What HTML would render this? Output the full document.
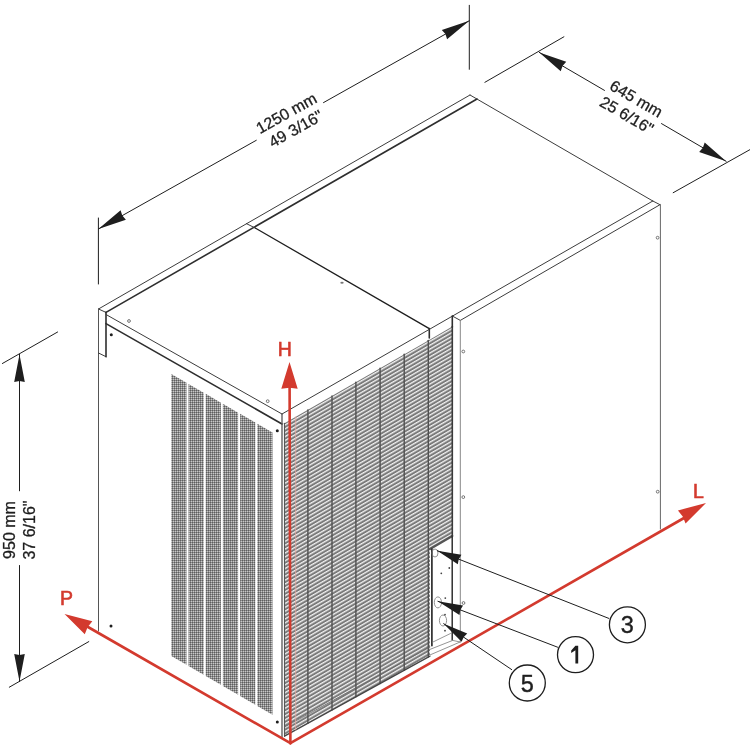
<!DOCTYPE html>
<html><head><meta charset="utf-8"><style>
html,body{margin:0;padding:0;background:#fff;width:750px;height:750px;overflow:hidden}
svg{display:block;font-family:"Liberation Sans", sans-serif}
line{stroke-linecap:round}
svg{will-change:transform}
</style></head><body>
<svg width="750" height="750" viewBox="0 0 750 750"><defs>
<pattern id="louv" patternUnits="userSpaceOnUse" width="40" height="3.88" patternTransform="matrix(1 -0.5774 0 1 0 0)">
  <rect width="40" height="3.88" fill="#ffffff"/>
  <rect y="0.5" width="40" height="2.5" fill="#7a7a7a"/>
</pattern>
<pattern id="perf" patternUnits="userSpaceOnUse" width="2" height="2">
  <rect width="2" height="2" fill="#8c8c8c"/>
  <rect width="1" height="1" fill="#5e5e5e"/>
  <rect x="1" y="1" width="1" height="1" fill="#c8c8c8"/>
</pattern>
</defs><rect width="750" height="750" fill="#fff"/><polygon points="171.30,373.90 186.50,382.72 186.50,664.82 171.30,656.00" fill="url(#perf)" stroke="none" stroke-width="0" />
<polygon points="188.50,383.88 203.70,392.69 203.70,674.79 188.50,665.98" fill="url(#perf)" stroke="none" stroke-width="0" />
<polygon points="205.70,393.85 220.90,402.67 220.90,684.77 205.70,675.95" fill="url(#perf)" stroke="none" stroke-width="0" />
<polygon points="222.90,403.83 238.10,412.64 238.10,694.74 222.90,685.93" fill="url(#perf)" stroke="none" stroke-width="0" />
<polygon points="240.10,413.80 255.30,422.62 255.30,704.72 240.10,695.90" fill="url(#perf)" stroke="none" stroke-width="0" />
<polygon points="257.30,423.78 272.50,432.60 272.50,714.70 257.30,705.88" fill="url(#perf)" stroke="none" stroke-width="0" />
<polygon points="284.50,423.35 430.00,339.39 430.00,656.10 284.50,736.12" fill="url(#louv)" stroke="none" stroke-width="0" />
<polygon points="430.00,339.39 452.30,326.53 452.30,536.00 430.00,549.00" fill="url(#louv)" stroke="none" stroke-width="0" />
<line x1="430.00" y1="549.00" x2="452.30" y2="536.00" stroke="#555" stroke-width="2.2" />
<line x1="431.90" y1="549.00" x2="431.90" y2="645.70" stroke="#222" stroke-width="1.6" />
<line x1="452.20" y1="536.00" x2="452.20" y2="640.00" stroke="#222" stroke-width="1.4" />
<line x1="433.00" y1="642.00" x2="450.50" y2="633.50" stroke="#999" stroke-width="1.0" />
<line x1="429.70" y1="649.50" x2="452.70" y2="640.40" stroke="#888" stroke-width="0.9" />
<line x1="430.30" y1="654.80" x2="460.10" y2="642.00" stroke="#888" stroke-width="0.9" />
<line x1="452.70" y1="640.40" x2="460.10" y2="642.00" stroke="#888" stroke-width="0.9" />
<ellipse cx="435" cy="553" rx="3" ry="4" fill="none" stroke="#777" stroke-width="0.8"/>
<ellipse cx="437.9" cy="602.4" rx="3.6" ry="5.5" fill="none" stroke="#777" stroke-width="0.8"/>
<ellipse cx="443" cy="620.5" rx="3.6" ry="5.5" fill="none" stroke="#777" stroke-width="0.8"/>
<circle cx="441.30" cy="573.30" r="0.9" fill="#444" stroke="none" stroke-width="1.0"/>
<circle cx="449.30" cy="568.00" r="0.9" fill="#444" stroke="none" stroke-width="1.0"/>
<circle cx="445.30" cy="598.10" r="0.9" fill="#444" stroke="none" stroke-width="1.0"/>
<circle cx="445.00" cy="614.70" r="0.9" fill="#444" stroke="none" stroke-width="1.0"/>
<circle cx="445.00" cy="630.70" r="0.9" fill="#444" stroke="none" stroke-width="1.0"/>
<line x1="307.90" y1="409.84" x2="307.90" y2="723.25" stroke="#505050" stroke-width="1.4" />
<line x1="332.00" y1="395.94" x2="332.00" y2="710.00" stroke="#505050" stroke-width="1.4" />
<line x1="355.90" y1="382.15" x2="355.90" y2="696.86" stroke="#505050" stroke-width="1.4" />
<line x1="380.10" y1="368.18" x2="380.10" y2="683.54" stroke="#505050" stroke-width="1.4" />
<line x1="404.20" y1="354.28" x2="404.20" y2="670.29" stroke="#505050" stroke-width="1.4" />
<line x1="428.30" y1="340.37" x2="428.30" y2="657.03" stroke="#505050" stroke-width="1.4" />
<line x1="452.30" y1="326.53" x2="452.30" y2="536.00" stroke="#3a3a3a" stroke-width="1.6" />
<line x1="284.50" y1="423.35" x2="284.50" y2="736.12" stroke="#555" stroke-width="1.1" />
<line x1="284.50" y1="736.12" x2="430.00" y2="656.10" stroke="#444" stroke-width="1.2" />
<line x1="284.50" y1="727.12" x2="430.00" y2="647.10" stroke="#666" stroke-width="0.8" />
<ellipse cx="342" cy="282.7" rx="1.7" ry="1" fill="#777"/>
<line x1="98.50" y1="309.00" x2="470.00" y2="95.00" stroke="#3c3c3c" stroke-width="1.0" />
<line x1="106.00" y1="312.40" x2="477.00" y2="99.00" stroke="#2e2e2e" stroke-width="1.6" />
<line x1="470.00" y1="95.00" x2="652.80" y2="201.00" stroke="#3c3c3c" stroke-width="1.0" />
<line x1="652.80" y1="201.00" x2="660.00" y2="204.70" stroke="#3c3c3c" stroke-width="1.0" />
<line x1="98.50" y1="309.00" x2="106.00" y2="312.40" stroke="#3c3c3c" stroke-width="1.0" />
<line x1="98.50" y1="309.00" x2="98.50" y2="631.00" stroke="#555" stroke-width="1.0" />
<line x1="98.50" y1="353.00" x2="106.00" y2="356.70" stroke="#3c3c3c" stroke-width="1.0" />
<line x1="106.00" y1="312.40" x2="106.00" y2="356.70" stroke="#2e2e2e" stroke-width="1.6" />
<line x1="106.00" y1="314.50" x2="282.00" y2="414.00" stroke="#3c3c3c" stroke-width="1.0" />
<line x1="106.00" y1="323.60" x2="282.00" y2="424.00" stroke="#2e2e2e" stroke-width="1.6" />
<line x1="282.00" y1="414.00" x2="652.80" y2="201.00" stroke="#3c3c3c" stroke-width="1.0" />
<line x1="460.30" y1="320.40" x2="660.00" y2="204.70" stroke="#3c3c3c" stroke-width="1.0" />
<line x1="452.30" y1="316.00" x2="460.30" y2="320.40" stroke="#3c3c3c" stroke-width="1.0" />
<line x1="452.30" y1="316.00" x2="452.30" y2="327.00" stroke="#2e2e2e" stroke-width="1.6" />
<line x1="246.40" y1="223.60" x2="255.20" y2="228.00" stroke="#3c3c3c" stroke-width="1.0" />
<line x1="255.20" y1="228.00" x2="429.30" y2="328.60" stroke="#1e1e1e" stroke-width="1.3" />
<line x1="429.30" y1="328.60" x2="429.30" y2="338.00" stroke="#2e2e2e" stroke-width="1.6" />
<line x1="282.00" y1="414.00" x2="282.00" y2="737.50" stroke="#555" stroke-width="1.3" />
<line x1="660.40" y1="204.70" x2="660.40" y2="529.00" stroke="#666" stroke-width="1.0" />
<line x1="460.30" y1="320.40" x2="460.30" y2="642.00" stroke="#888" stroke-width="1.0" />
<circle cx="111.30" cy="334.80" r="1.5" fill="#1e1e1e" stroke="none" stroke-width="1.0"/>
<circle cx="111.00" cy="626.00" r="1.5" fill="#1e1e1e" stroke="none" stroke-width="1.0"/>
<circle cx="277.30" cy="430.70" r="1.5" fill="#1e1e1e" stroke="none" stroke-width="1.0"/>
<circle cx="277.30" cy="721.90" r="1.5" fill="#1e1e1e" stroke="none" stroke-width="1.0"/>
<circle cx="129.00" cy="321.00" r="1.4" fill="none" stroke="#555" stroke-width="0.8"/>
<circle cx="267.70" cy="401.20" r="1.4" fill="none" stroke="#555" stroke-width="0.8"/>
<circle cx="463.30" cy="351.50" r="1.4" fill="none" stroke="#555" stroke-width="0.8"/>
<circle cx="463.30" cy="497.10" r="1.4" fill="none" stroke="#555" stroke-width="0.8"/>
<circle cx="657.60" cy="237.70" r="1.4" fill="none" stroke="#555" stroke-width="0.8"/>
<circle cx="657.70" cy="491.70" r="1.4" fill="none" stroke="#555" stroke-width="0.8"/>
<circle cx="463.50" cy="603.00" r="1.4" fill="none" stroke="#555" stroke-width="0.8"/>
<line x1="98.40" y1="218.00" x2="98.40" y2="284.00" stroke="#1e1e1e" stroke-width="1.0" />
<line x1="469.30" y1="5.30" x2="469.30" y2="69.30" stroke="#1e1e1e" stroke-width="1.0" />
<line x1="98.40" y1="229.00" x2="256.30" y2="140.30" stroke="#1e1e1e" stroke-width="1.0" />
<line x1="323.50" y1="102.60" x2="469.30" y2="20.70" stroke="#1e1e1e" stroke-width="1.0" />
<polygon points="98.40,229.00 125.89,219.75 122.26,215.60 120.61,210.34" fill="#1e1e1e" stroke="none" stroke-width="0" />
<polygon points="469.30,20.70 441.81,29.95 445.44,34.10 447.09,39.36" fill="#1e1e1e" stroke="none" stroke-width="0" />
<text x="289.00" y="118.00" font-size="16" fill="#1e1e1e" text-anchor="middle" font-weight="normal" transform="rotate(-29.318566527424398 289.00 118.00)" stroke="#1e1e1e" stroke-width="0.3">1250 mm</text>
<text x="298.50" y="133.50" font-size="16" fill="#1e1e1e" text-anchor="middle" font-weight="normal" transform="rotate(-29.318566527424398 298.50 133.50)" stroke="#1e1e1e" stroke-width="0.3">49 3/16&quot;</text>
<line x1="484.90" y1="82.30" x2="563.90" y2="36.80" stroke="#1e1e1e" stroke-width="1.0" />
<line x1="673.20" y1="192.70" x2="750.00" y2="149.60" stroke="#1e1e1e" stroke-width="1.0" />
<line x1="539.30" y1="52.40" x2="604.50" y2="90.40" stroke="#1e1e1e" stroke-width="1.0" />
<line x1="661.50" y1="123.60" x2="726.10" y2="161.30" stroke="#1e1e1e" stroke-width="1.0" />
<polygon points="539.30,52.40 560.72,71.25 562.52,65.94 566.26,61.75" fill="#1e1e1e" stroke="none" stroke-width="0" />
<polygon points="726.10,161.30 704.68,142.45 702.88,147.76 699.14,151.95" fill="#1e1e1e" stroke="none" stroke-width="0" />
<text x="633.50" y="103.50" font-size="16" fill="#1e1e1e" text-anchor="middle" font-weight="normal" transform="rotate(30.242185368657942 633.50 103.50)" stroke="#1e1e1e" stroke-width="0.3">645 mm</text>
<text x="624.00" y="120.00" font-size="16" fill="#1e1e1e" text-anchor="middle" font-weight="normal" transform="rotate(30.242185368657942 624.00 120.00)" stroke="#1e1e1e" stroke-width="0.3">25 6/16&quot;</text>
<line x1="2.40" y1="363.50" x2="57.60" y2="332.00" stroke="#1e1e1e" stroke-width="1.0" />
<line x1="9.30" y1="687.20" x2="88.80" y2="641.60" stroke="#1e1e1e" stroke-width="1.0" />
<line x1="19.50" y1="354.40" x2="19.50" y2="490.80" stroke="#1e1e1e" stroke-width="1.0" />
<line x1="19.50" y1="565.50" x2="19.50" y2="681.60" stroke="#1e1e1e" stroke-width="1.0" />
<polygon points="19.50,354.40 14.20,382.00 19.50,380.90 24.80,382.00" fill="#1e1e1e" stroke="none" stroke-width="0" />
<polygon points="19.50,681.60 24.80,654.00 19.50,655.10 14.20,654.00" fill="#1e1e1e" stroke="none" stroke-width="0" />
<text x="15.00" y="530.00" font-size="16" fill="#1e1e1e" text-anchor="middle" font-weight="normal" transform="rotate(-90 15.00 530.00)" stroke="#1e1e1e" stroke-width="0.3">950 mm</text>
<text x="35.00" y="530.00" font-size="16" fill="#1e1e1e" text-anchor="middle" font-weight="normal" transform="rotate(-90 35.00 530.00)" stroke="#1e1e1e" stroke-width="0.3">37 6/16&quot;</text>
<line x1="290.40" y1="743.20" x2="289.60" y2="385.00" stroke="#d33a2e" stroke-width="2.6" />
<line x1="295.70" y1="416.88" x2="295.70" y2="729.97" stroke="#e8a8a0" stroke-width="0.8" />
<line x1="290.40" y1="743.20" x2="88.00" y2="627.00" stroke="#d33a2e" stroke-width="2.6" />
<line x1="290.40" y1="743.20" x2="684.00" y2="518.00" stroke="#d33a2e" stroke-width="2.6" />
<polygon points="289.50,362.00 281.30,388.70 289.50,387.63 297.70,388.70" fill="#d33a2e" stroke="none" stroke-width="0" />
<polygon points="64.50,614.00 84.77,634.35 87.58,627.20 92.32,621.16" fill="#d33a2e" stroke="none" stroke-width="0" />
<polygon points="706.00,503.00 677.95,510.43 682.73,516.45 685.56,523.59" fill="#d33a2e" stroke="none" stroke-width="0" />
<text x="284.70" y="356.00" font-size="19.5" fill="#d33a2e" text-anchor="middle" font-weight="normal" transform="rotate(0 284.70 356.00)" stroke="#d33a2e" stroke-width="0.6">H</text>
<text x="66.40" y="605.20" font-size="19.5" fill="#d33a2e" text-anchor="middle" font-weight="normal" transform="rotate(0 66.40 605.20)" stroke="#d33a2e" stroke-width="0.6">P</text>
<text x="698.50" y="498.00" font-size="19.5" fill="#d33a2e" text-anchor="middle" font-weight="normal" transform="rotate(0 698.50 498.00)" stroke="#d33a2e" stroke-width="0.6">L</text>
<line x1="437.30" y1="550.70" x2="608.80" y2="618.40" stroke="#1e1e1e" stroke-width="1.0" />
<line x1="437.90" y1="601.30" x2="557.60" y2="647.20" stroke="#1e1e1e" stroke-width="1.0" />
<line x1="443.70" y1="623.70" x2="511.70" y2="669.60" stroke="#1e1e1e" stroke-width="1.0" />
<polygon points="437.30,550.70 457.79,564.16 458.73,559.16 461.46,554.86" fill="#1e1e1e" stroke="none" stroke-width="0" />
<polygon points="437.90,601.30 459.45,614.92 460.31,609.89 463.03,605.58" fill="#1e1e1e" stroke="none" stroke-width="0" />
<polygon points="443.70,623.70 461.62,641.83 463.59,637.13 467.22,633.54" fill="#1e1e1e" stroke="none" stroke-width="0" />
<circle cx="627.40" cy="624.80" r="18" fill="#fff" stroke="#1e1e1e" stroke-width="1.3"/>
<text x="627.40" y="633.30" font-size="23.5" fill="#1e1e1e" text-anchor="middle" font-weight="normal" transform="rotate(0 627.40 633.30)" stroke="#1e1e1e" stroke-width="0.4">3</text>
<circle cx="575.50" cy="654.70" r="18" fill="#fff" stroke="#1e1e1e" stroke-width="1.3"/>
<circle cx="527.30" cy="683.00" r="18" fill="#fff" stroke="#1e1e1e" stroke-width="1.3"/>
<text x="527.30" y="691.50" font-size="23.5" fill="#1e1e1e" text-anchor="middle" font-weight="normal" transform="rotate(0 527.30 691.50)" stroke="#1e1e1e" stroke-width="0.4">5</text>
<polygon points="575.40,645.80 578.20,645.80 578.20,663.40 575.40,663.40 575.40,650.20 571.20,653.00 571.20,650.40" fill="#1e1e1e" stroke="none" stroke-width="0" /></svg>
</body></html>
